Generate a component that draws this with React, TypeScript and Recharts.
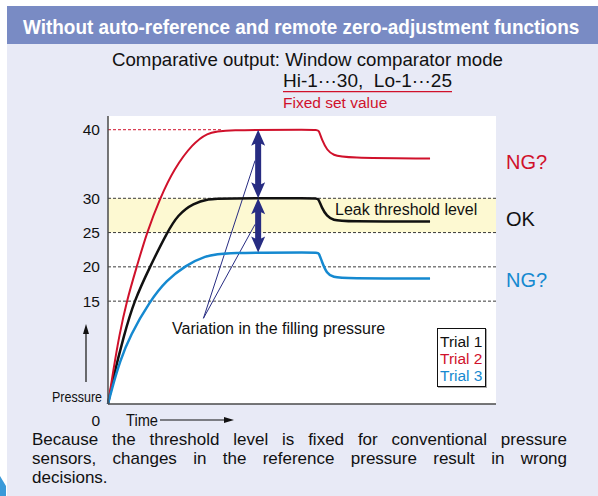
import React from "react";
import { LineChart, Line, XAxis, YAxis, ReferenceLine, ReferenceArea, CartesianGrid, Legend } from "recharts";

// pressure (y) vs time (x, 0..100 arbitrary units)
const yTicks = [0, 15, 20, 25, 30, 40];
const leakBand = [25, 30];

const trial1 = [
  { t: 0, p: 0 }, { t: 1.2, p: 3.5 }, { t: 4.1, p: 10 }, { t: 6.7, p: 15 }, { t: 10.8, p: 20 },
  { t: 15.2, p: 25 }, { t: 18, p: 27.6 }, { t: 22, p: 29.3 }, { t: 26, p: 29.9 }, { t: 29, p: 30 },
  { t: 53.7, p: 30 }, { t: 54.2, p: 30 }, { t: 55.1, p: 28.6 }, { t: 56.4, p: 27.4 }, { t: 58, p: 26.8 },
  { t: 61, p: 26.6 }, { t: 83, p: 26.6 },
];
const trial2 = [
  { t: 0, p: 0 }, { t: 1.4, p: 5 }, { t: 2.9, p: 10 }, { t: 4.8, p: 15 }, { t: 7.4, p: 20 },
  { t: 10, p: 25 }, { t: 13.4, p: 30 }, { t: 17, p: 34.3 }, { t: 21.9, p: 38 }, { t: 25.5, p: 39.5 },
  { t: 29.4, p: 40 }, { t: 53.8, p: 40 }, { t: 54.3, p: 40 }, { t: 55.2, p: 38.4 }, { t: 56.5, p: 37 },
  { t: 58, p: 36.3 }, { t: 61, p: 35.9 }, { t: 83, p: 35.8 },
];
const trial3 = [
  { t: 0, p: 0 }, { t: 0.8, p: 1.8 }, { t: 3.1, p: 6.3 }, { t: 5.7, p: 10 }, { t: 10.8, p: 15 },
  { t: 15, p: 18 }, { t: 20, p: 20.2 }, { t: 25, p: 21.6 }, { t: 30, p: 22.1 }, { t: 53.8, p: 22.1 },
  { t: 54.3, p: 22.1 }, { t: 55.1, p: 20.8 }, { t: 56.4, p: 19 }, { t: 58, p: 18.5 }, { t: 61, p: 18.3 },
  { t: 83, p: 18.3 },
];

// double arrows showing the variation, and the callout lines to them
const arrowT = 38.7;
const arrowSpans = [[40, 30], [30, 22.1]];
const calloutFrom = { t: 24.6, p: 12.5 };
const calloutTo = [{ t: 37.9, p: 35.5 }, { t: 37.9, p: 26.2 }];
const redPlateauStart = trial2.find((d) => d.p === 40)!.t;

const series = [
  { name: "Trial 1", data: trial1, color: "#111111", width: 2.5 },
  { name: "Trial 2", data: trial2, color: "#d0112b", width: 2 },
  { name: "Trial 3", data: trial3, color: "#1589d0", width: 2.5 },
];

const FONT = '"Liberation Sans", Arial, Helvetica, sans-serif';
const NAVY = "#272c82";

const YTick = (props: any) => {
  const { x, y, payload } = props;
  const dy = payload.value === 0 ? 16 : 0;
  return (
    <text x={x} y={y + dy} dy="0.36em" textAnchor="end" fontSize={15.5} fill="#111" fontFamily={FONT}>
      {payload.value}
    </text>
  );
};

const DoubleArrow = (props: any) => {
  const { x1, y1, y2 } = props;
  const x = x1;
  const top = Math.min(y1, y2);
  const bot = Math.max(y1, y2);
  const hw = 7, sw = 3, hl = 16, bk = 14;
  const pts = [
    [x, top], [x + hw, top + hl], [x + sw, top + bk], [x + sw, bot - bk], [x + hw, bot - hl],
    [x, bot], [x - hw, bot - hl], [x - sw, bot - bk], [x - sw, top + bk], [x - hw, top + hl],
  ];
  return <polygon points={pts.map((p) => p.join(",")).join(" ")} fill={NAVY} />;
};

const LegendBox = () => (
  <div
    style={{
      boxSizing: "border-box",
      width: 49,
      height: 59,
      border: "1.5px solid #111",
      background: "#fff",
      boxShadow: "1px 1px 0 #aaa",
      padding: "4px 0 0 2px",
      fontFamily: FONT,
      fontSize: 15.5,
      lineHeight: "17px",
      whiteSpace: "nowrap",
    }}
  >
    {series.map((s) => (
      <div key={s.name} style={{ color: s.color }}>{s.name}</div>
    ))}
  </div>
);

export default function App() {
  return (
    <div style={{ position: "absolute", left: 0, top: 0, width: 598, height: 496, background: "#fff", overflow: "hidden", fontFamily: FONT }}>
      <div style={{ position: "absolute", left: 7, top: 6, width: 591, height: 490, background: "#e8eaf6" }} />
      <div style={{ position: "absolute", left: 7, top: 6, width: 591, height: 38, background: "#798bc4" }} />

      <div style={{ position: "absolute", left: 0, top: 0 }}>
        <LineChart width={598} height={496} margin={{ top: 116, right: 102, bottom: 62, left: 48 }}>
          <CartesianGrid fill="#ffffff" horizontal={false} vertical={false} />
          <XAxis
            type="number"
            dataKey="t"
            domain={[0, 100]}
            height={30}
            tick={false}
            tickLine={false}
            axisLine={{ stroke: "#4a4a4a", strokeWidth: 1.5 }}
          />
          <YAxis
            type="number"
            dataKey="p"
            domain={[0, 42]}
            ticks={yTicks}
            interval={0}
            width={60}
            tickSize={0}
            tickMargin={8}
            tickLine={false}
            tick={<YTick />}
            axisLine={{ stroke: "#4a4a4a", strokeWidth: 1.5 }}
          />
          <ReferenceArea x1={0} x2={100} y1={leakBand[0]} y2={leakBand[1]} fill="#fdf9d2" fillOpacity={1} stroke="none" />
          {yTicks.filter((v) => v > 0 && v < 40).map((v) => (
            <ReferenceLine key={v} y={v} stroke="#3a3a3a" strokeDasharray="3 2" strokeWidth={1} />
          ))}
          <ReferenceLine
            segment={[{ x: 0, y: 40 }, { x: redPlateauStart, y: 40 }]}
            stroke="#d0112b"
            strokeDasharray="3 2"
            strokeWidth={1}
          />
          {calloutTo.map((c, i) => (
            <ReferenceLine
              key={"c" + i}
              segment={[{ x: calloutFrom.t, y: calloutFrom.p }, { x: c.t, y: c.p }]}
              stroke={NAVY}
              strokeWidth={1}
            />
          ))}
          {series.map((s) => (
            <Line
              key={s.name}
              name={s.name}
              data={s.data}
              dataKey="p"
              type="basis"
              stroke={s.color}
              strokeWidth={s.width}
              dot={false}
              activeDot={false}
              isAnimationActive={false}
            />
          ))}
          {arrowSpans.map((a, i) => (
            <ReferenceLine
              key={"a" + i}
              segment={[{ x: arrowT, y: a[0] }, { x: arrowT, y: a[1] }]}
              shape={(p: any) => <DoubleArrow {...p} />}
            />
          ))}
          <Legend
            layout="vertical"
            align="center"
            verticalAlign="middle"
            wrapperStyle={{ left: 437, top: 328, width: 49, height: 59 }}
            content={() => <LegendBox />}
          />
        </LineChart>
      </div>

      <svg width={598} height={496} style={{ position: "absolute", left: 0, top: 0, pointerEvents: "none" }} fontFamily={FONT}>
        <text
          x={25.6}
          y={34.3}
          transform="scale(0.9 1)"
          fontSize={21}
          fontWeight="bold"
          fill="#fff"
          textLength={618}
          lengthAdjust="spacingAndGlyphs"
        >
          Without auto-reference and remote zero-adjustment functions
        </text>
        <text x={112} y={65.7} fontSize={19} fill="#111" textLength={391} lengthAdjust="spacingAndGlyphs">
          Comparative output: Window comparator mode
        </text>
        <text x={283} y={86.7} fontSize={17.5} fill="#111" textLength={169} lengthAdjust="spacingAndGlyphs">
          {"Hi-1···30,\u00a0\u00a0Lo-1···25"}
        </text>
        <line x1={283} x2={452} y1={91.7} y2={91.7} stroke="#d0112b" strokeWidth={1.3} />
        <text x={283} y={108.3} fontSize={15.5} fill="#d0112b">Fixed set value</text>

        <text x={506} y={168.9} fontSize={20} fill="#d0112b">NG?</text>
        <text x={506} y={225.5} fontSize={20} fill="#111">OK</text>
        <text x={506} y={287.2} fontSize={20} fill="#1589d0">NG?</text>

        <text x={335} y={214.7} fontSize={16} fill="#111">Leak threshold level</text>
        <text x={172} y={333.7} fontSize={16} fill="#111">Variation in the filling pressure</text>

        <text x={52} y={401.5} fontSize={15.5} fill="#111" textLength={50} lengthAdjust="spacingAndGlyphs">Pressure</text>
        <line x1={86} x2={86} y1={382} y2={332} stroke="#111" strokeWidth={1.2} />
        <polygon points="86,324 83,334 89,334" fill="#111" />

        <text x={126} y={425.5} fontSize={16} fill="#111" textLength={32} lengthAdjust="spacingAndGlyphs">Time</text>
        <line x1={160} x2={226} y1={420} y2={420} stroke="#111" strokeWidth={1.2} />
        <polygon points="234,420 224,417 224,423" fill="#111" />

        <path d="M0,476 L6,486 L6,496 L0,496 Z" fill="#3a9ad9" />
      </svg>

      <div style={{ position: "absolute", left: 32, top: 430.3, width: 535, fontSize: 17, lineHeight: "19px", color: "#111" }}>
        <div style={{ textAlign: "justify", textAlignLast: "justify" }}>
          Because the threshold level is fixed for conventional pressure
        </div>
        <div style={{ textAlign: "justify", textAlignLast: "justify" }}>
          sensors, changes in the reference pressure result in wrong
        </div>
        <div>decisions.</div>
      </div>
    </div>
  );
}
